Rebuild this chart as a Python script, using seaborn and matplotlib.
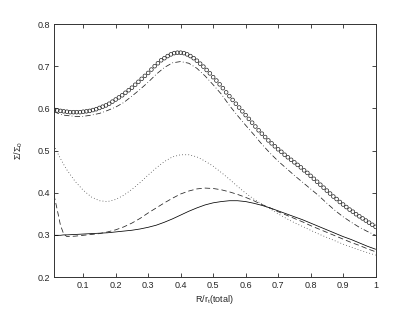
import numpy as np
import matplotlib
matplotlib.use("Agg")
import matplotlib.pyplot as plt
import seaborn as sns

# x grid shared by the four line series
x_line = [0.01, 0.02, 0.03, 0.04, 0.05, 0.075, 0.1, 0.125, 0.15, 0.175, 0.2,
          0.225, 0.25, 0.275, 0.3, 0.325, 0.35, 0.375, 0.4, 0.425, 0.45, 0.475,
          0.5, 0.525, 0.55, 0.575, 0.6, 0.625, 0.65, 0.675, 0.7, 0.725, 0.75,
          0.775, 0.8, 0.825, 0.85, 0.875, 0.9, 0.925, 0.95, 0.975, 1.0]

solid = [0.299, 0.299, 0.299, 0.300, 0.300, 0.301, 0.302, 0.303, 0.304, 0.305,
         0.307, 0.309, 0.311, 0.314, 0.318, 0.323, 0.330, 0.338, 0.347, 0.356,
         0.364, 0.371, 0.376, 0.379, 0.381, 0.381, 0.379, 0.375, 0.370, 0.364,
         0.357, 0.350, 0.343, 0.336, 0.328, 0.320, 0.312, 0.304, 0.296, 0.289,
         0.281, 0.273, 0.266]

dashed = [0.395, 0.360, 0.323, 0.302, 0.296, 0.297, 0.299, 0.301, 0.303, 0.307,
          0.312, 0.319, 0.328, 0.339, 0.352, 0.364, 0.376, 0.387, 0.397, 0.404,
          0.409, 0.411, 0.410, 0.407, 0.402, 0.396, 0.389, 0.381, 0.372, 0.364,
          0.355, 0.347, 0.339, 0.331, 0.322, 0.314, 0.306, 0.298, 0.290, 0.282,
          0.275, 0.267, 0.260]

dotted = [0.512, 0.496, 0.481, 0.467, 0.454, 0.427, 0.406, 0.390, 0.381, 0.379,
          0.384, 0.394, 0.408, 0.424, 0.442, 0.459, 0.474, 0.485, 0.490, 0.490,
          0.485, 0.475, 0.463, 0.448, 0.432, 0.415, 0.399, 0.385, 0.373, 0.362,
          0.350, 0.339, 0.329, 0.320, 0.311, 0.302, 0.294, 0.286, 0.278, 0.271,
          0.264, 0.258, 0.252]

dashdot = [0.592, 0.589, 0.586, 0.584, 0.583, 0.581, 0.581, 0.584, 0.588, 0.595,
           0.603, 0.614, 0.629, 0.645, 0.662, 0.681, 0.697, 0.708, 0.711, 0.707,
           0.695, 0.677, 0.656, 0.634, 0.607, 0.583, 0.560, 0.538, 0.515, 0.494,
           0.475, 0.458, 0.441, 0.425, 0.409, 0.393, 0.375, 0.358, 0.343, 0.330,
           0.318, 0.308, 0.299]

# circle markers, one every 0.01
x_circ = np.round(np.arange(1, 101) * 0.01, 2)
circles = [0.597, 0.595, 0.594, 0.593, 0.592, 0.591, 0.591, 0.591, 0.591, 0.592,
           0.593, 0.594, 0.596, 0.598, 0.601, 0.604, 0.607, 0.611, 0.616, 0.621,
           0.626, 0.631, 0.637, 0.643, 0.649, 0.656, 0.663, 0.670, 0.677, 0.684,
           0.692, 0.700, 0.707, 0.714, 0.719, 0.724, 0.728, 0.731, 0.732, 0.732,
           0.731, 0.728, 0.724, 0.719, 0.713, 0.706, 0.699, 0.691, 0.683, 0.674,
           0.666, 0.657, 0.648, 0.638, 0.629, 0.620, 0.611, 0.602, 0.593, 0.584,
           0.575, 0.566, 0.557, 0.548, 0.540, 0.532, 0.524, 0.517, 0.510, 0.503,
           0.497, 0.490, 0.484, 0.478, 0.472, 0.466, 0.460, 0.453, 0.447, 0.440,
           0.433, 0.426, 0.419, 0.412, 0.405, 0.398, 0.391, 0.385, 0.378, 0.372,
           0.366, 0.360, 0.355, 0.349, 0.344, 0.339, 0.334, 0.329, 0.324, 0.319]

x_ticks = [0.1, 0.2, 0.3, 0.4, 0.5, 0.6, 0.7, 0.8, 0.9, 1.0]
x_ticklabels = ['0.1', '0.2', '0.3', '0.4', '0.5', '0.6', '0.7', '0.8', '0.9', '1']
y_ticks = [0.2, 0.3, 0.4, 0.5, 0.6, 0.7, 0.8]

sns.set_style('ticks')
plt.rcParams['font.family'] = ['Liberation Sans', 'DejaVu Sans']
plt.rcParams['mathtext.default'] = 'regular'

fig = plt.figure(figsize=(4.15, 3.12), dpi=100)
ax = fig.add_axes([0.13, 0.112, 0.775, 0.811])

lw = 0.55
sns.lineplot(x=x_line, y=solid, ax=ax, color='k', lw=lw)
sns.lineplot(x=x_line, y=dashed, ax=ax, color='#222222', lw=lw, linestyle=(0, (7, 4)))
sns.lineplot(x=x_line, y=dotted, ax=ax, color='#333333', lw=lw, linestyle=(0, (1, 3)))
sns.lineplot(x=x_line, y=dashdot, ax=ax, color='#222222', lw=lw, linestyle=(0, (7, 3, 1, 3)))
sns.scatterplot(x=x_circ, y=circles, ax=ax, marker='o', s=7,
                facecolor='none', edgecolor='#222222', linewidth=0.5)

ax.set_xlim(0.01, 1.0)
ax.set_ylim(0.2, 0.8)
ax.set_xticks(x_ticks)
ax.set_xticklabels(x_ticklabels)
ax.set_yticks(y_ticks)
ax.tick_params(direction='in', length=3, width=0.6, labelsize=6.5,
               top=True, right=True, pad=3)
for sp in ax.spines.values():
    sp.set_linewidth(0.7)
    sp.set_color('#333333')

ax.set_xlabel('R/r$_t$(total)', fontsize=6.5, labelpad=2)
ax.set_ylabel('Σ/Σ$_0$', fontsize=6.5, labelpad=9)

fig.savefig('out.png', dpi=100)
